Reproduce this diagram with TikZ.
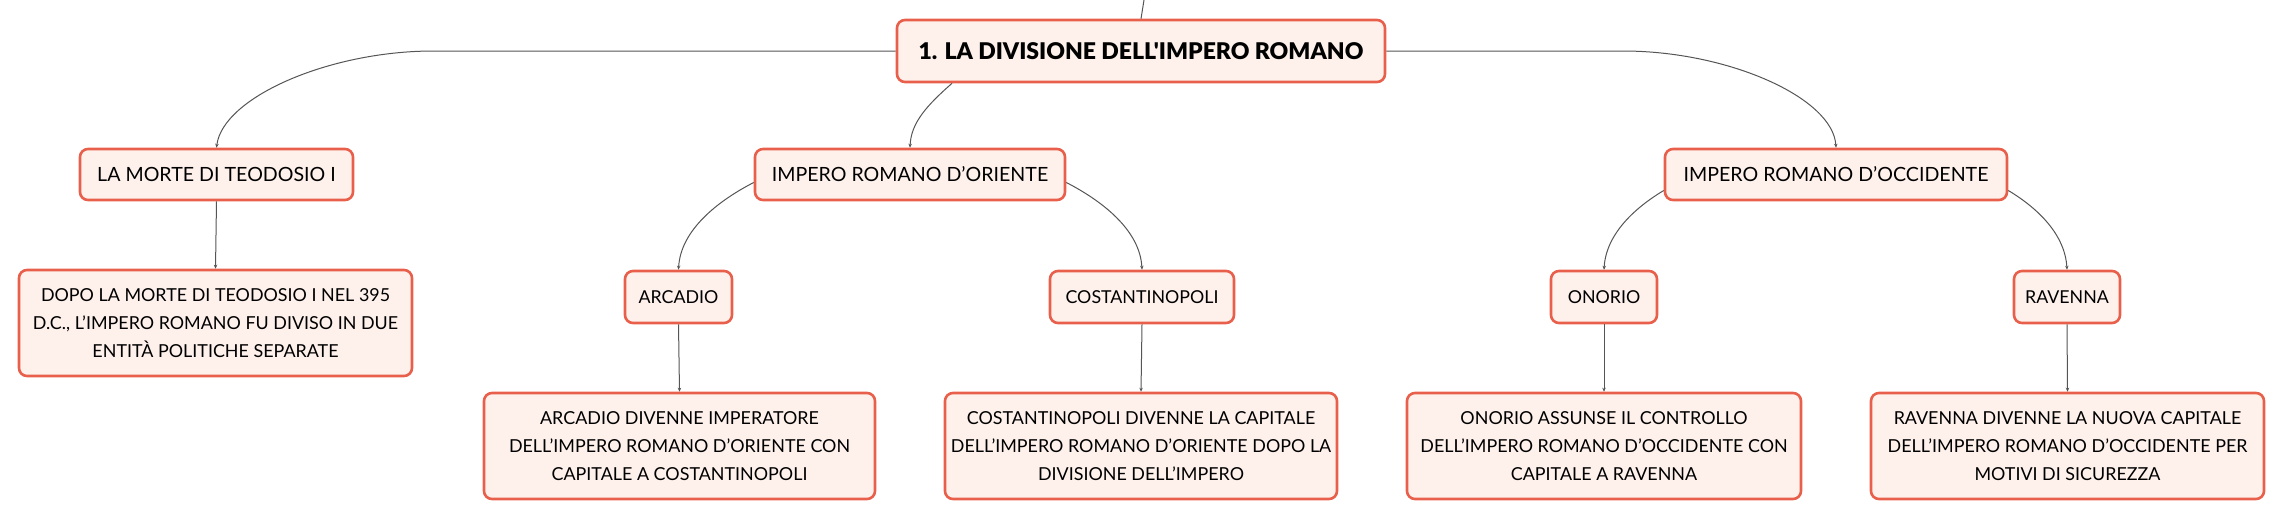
\documentclass[tikz,border=0pt]{standalone}
\usepackage{fontspec}
\setmainfont{Lato}
\newfontfamily\heavyfont{Lato Black}
\usetikzlibrary{arrows.meta,calc}
\definecolor{bordc}{HTML}{E8604C}
\definecolor{fillc}{HTML}{FEF1EC}
\definecolor{linec}{HTML}{555555}
\tikzset{
 box/.style={draw=bordc, line width=2.6pt, fill=fillc, rounded corners=8pt, align=center, inner sep=0pt, text=black},
 lvlone/.style={box, minimum height=51pt, font=\fontsize{19.6}{23}\selectfont},
 lvltwo/.style={box, minimum width=106pt, minimum height=52pt, font=\fontsize{17.8}{21}\selectfont},
 desc/.style={box, minimum height=106pt, font=\fontsize{17.9}{28}\selectfont},
 conn/.style={draw=linec, line width=1pt, -{Stealth[length=4pt,width=3.5pt]}},
 plainline/.style={draw=linec, line width=1pt},
}
\begin{document}
\begin{tikzpicture}[x=1pt,y=-1pt]
\useasboundingbox (0,0) rectangle (2284,520);
% nodes
\node[box, minimum width=488pt, minimum height=62pt, font=\heavyfont\fontsize{23}{28}\selectfont] (root) at (1141,51) {1. LA DIVISIONE DELL'IMPERO ROMANO};
\coordinate (topend) at (1144,0);

\node[lvlone, minimum width=273pt] (morte) at (216.5,174.5) {LA MORTE DI TEODOSIO I};
\node[lvlone, minimum width=310pt] (oriente) at (910,174.5) {IMPERO ROMANO D'ORIENTE};
\node[lvlone, minimum width=342pt] (occidente) at (1836,174.5) {IMPERO ROMANO D'OCCIDENTE};

\node[desc, minimum width=393pt] (dopo) at (215.5,323) {DOPO LA MORTE DI TEODOSIO I NEL 395\\D.C., L'IMPERO ROMANO FU DIVISO IN DUE\\ENTITÀ POLITICHE SEPARATE};

\node[lvltwo, minimum width=107pt] (arcadio) at (678.5,297) {ARCADIO};
\node[lvltwo, minimum width=184pt] (cost) at (1142,297) {COSTANTINOPOLI};
\node[lvltwo] (onorio) at (1604,297) {ONORIO};
\node[lvltwo] (ravenna) at (2067,297) {RAVENNA};

\node[desc, minimum width=391pt] (arcdesc) at (679.5,446) {ARCADIO DIVENNE IMPERATORE\\DELL'IMPERO ROMANO D'ORIENTE CON\\CAPITALE A COSTANTINOPOLI};
\node[desc, minimum width=392pt] (costdesc) at (1141,446) {COSTANTINOPOLI DIVENNE LA CAPITALE\\DELL'IMPERO ROMANO D'ORIENTE DOPO LA\\DIVISIONE DELL'IMPERO};
\node[desc, minimum width=394pt] (onodesc) at (1604,446) {ONORIO ASSUNSE IL CONTROLLO\\DELL'IMPERO ROMANO D'OCCIDENTE CON\\CAPITALE A RAVENNA};
\node[desc, minimum width=393pt] (ravdesc) at (2067.5,446) {RAVENNA DIVENNE LA NUOVA CAPITALE\\DELL'IMPERO ROMANO D'OCCIDENTE PER\\MOTIVI DI SICUREZZA};

% connectors
\draw[plainline] (topend) -- (root.north);
\draw[conn] (root.west) -- ([xshift=217pt]morte.north |- root.west)
   .. controls +(-105,0) and ([xshift=6pt,yshift=50pt]morte.north) .. (morte.north);
\draw[conn] (root.east) -- ([xshift=-213pt]occidente.north |- root.east)
   .. controls +(105,0) and ([xshift=-3pt,yshift=50pt]occidente.north) .. (occidente.north);
\draw[conn] ([xshift=-189pt]root.south) .. controls +(-25,22) and ([xshift=1pt,yshift=25pt]oriente.north) .. (oriente.north);

\draw[conn] ([yshift=-8pt]oriente.west) .. controls +(-35,18) and ([xshift=2pt,yshift=40pt]arcadio.north) .. (arcadio.north);
\draw[conn] ([yshift=-8pt]oriente.east) .. controls +(35,18) and ([xshift=-2pt,yshift=40pt]cost.north) .. (cost.north);
\draw[conn] ([yshift=-16pt]occidente.west) .. controls +(-30,18) and ([xshift=2pt,yshift=35pt]onorio.north) .. (onorio.north);
\draw[conn] ([yshift=-16pt]occidente.east) .. controls +(30,18) and ([xshift=-2pt,yshift=35pt]ravenna.north) .. (ravenna.north);

\draw[conn] (morte.south) -- (dopo.north);
\draw[conn] (arcadio.south) -- (arcdesc.north);
\draw[conn] (cost.south) -- (costdesc.north);
\draw[conn] (onorio.south) -- (onodesc.north);
\draw[conn] (ravenna.south) -- (ravdesc.north);
\end{tikzpicture}
\end{document}
